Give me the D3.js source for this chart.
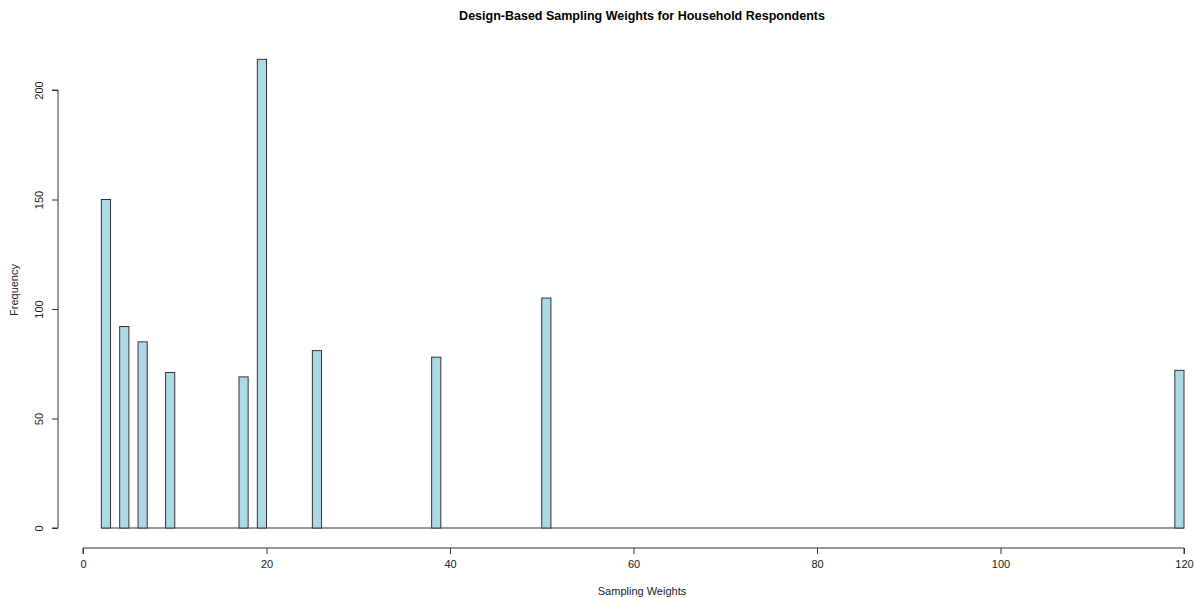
<!DOCTYPE html>
<html><head><meta charset="utf-8">
<script src="https://cdn.jsdelivr.net/npm/d3@7"></script>
<style>body{margin:0;background:#fff}svg{display:block;font-family:"Liberation Sans",Arial,sans-serif}</style>
</head><body><svg id="c" width="1195" height="598"></svg>
<script>
const binStarts = [2, 4, 6, 9, 17, 19, 25, 38, 50, 119];
const counts = [150, 92, 85, 71, 69, 214, 81, 78, 105, 72];
const binWidth = 1;
const xTicks = [0, 20, 40, 60, 80, 100, 120];
const yTicks = [0, 50, 100, 150, 200];
const title = "Design-Based Sampling Weights for Household Respondents";
const xLabel = "Sampling Weights";
const yLabel = "Frequency";

const svg = d3.select("#c");
const x = d3.scaleLinear().domain([0, 120]).range([83, 1184]);
const y = d3.scaleLinear().domain([0, 200]).range([528, 90]);
const ink = "#333";

// baseline for empty bins
svg.append("line").attr("x1", x(d3.min(binStarts))).attr("x2", x(d3.max(binStarts) + binWidth))
  .attr("y1", y(0)).attr("y2", y(0)).attr("stroke", ink).attr("stroke-width", 1);

svg.selectAll("rect.bar").data(binStarts.map((s, i) => ({s, c: counts[i]}))).join("rect")
  .attr("class", "bar")
  .attr("x", d => x(d.s)).attr("width", d => x(d.s + binWidth) - x(d.s))
  .attr("y", d => y(d.c)).attr("height", d => y(0) - y(d.c))
  .attr("fill", "#ADD8E6").attr("stroke", ink).attr("stroke-width", 1);

// x axis
const xa = svg.append("g").attr("transform", "translate(0,548)")
  .call(d3.axisBottom(x).tickValues(xTicks).tickSize(6).tickPadding(6).tickFormat(d3.format("d")));
xa.select(".domain").attr("stroke", ink).attr("d", `M${x(0)},6V0H${x(120)}V6`);
xa.selectAll(".tick line").attr("stroke", ink);
xa.selectAll("text").attr("font-size", 11).attr("fill", "#222").attr("font-family", "Liberation Sans, Arial, sans-serif");

// y axis
const ya = svg.append("g").attr("transform", "translate(58,0)")
  .call(d3.axisLeft(y).tickValues(yTicks).tickSize(6).tickFormat(d3.format("d")));
ya.select(".domain").attr("stroke", ink).attr("d", `M-6,${y(0)}H0V${y(200)}H-6`);
ya.selectAll(".tick line").attr("stroke", ink);
ya.selectAll(".tick text").attr("font-size", 11).attr("fill", "#222")
  .attr("font-family", "Liberation Sans, Arial, sans-serif")
  .attr("transform", "rotate(-90)").attr("x", 0).attr("y", -18).attr("dy", "0.35em")
  .attr("text-anchor", "middle")
  .each(function(d){ d3.select(this).attr("transform", `translate(0,0) rotate(-90)`); });
// position rotated labels correctly
ya.selectAll(".tick text").attr("transform", null).attr("x", null).attr("y", null).attr("dy", null)
  .attr("text-anchor", "middle")
  .attr("transform", "translate(-15,0) rotate(-90)");

svg.append("text").attr("x", 642).attr("y", 20).attr("text-anchor", "middle")
  .attr("font-size", 12.5).attr("font-weight", "bold").attr("fill", "#000").text(title);
svg.append("text").attr("x", 642).attr("y", 595).attr("text-anchor", "middle")
  .attr("font-size", 11).attr("fill", "#222").text(xLabel);
svg.append("text").attr("transform", "translate(18,290) rotate(-90)").attr("text-anchor", "middle")
  .attr("font-size", 11).attr("fill", "#222").text(yLabel);
</script></body></html>
